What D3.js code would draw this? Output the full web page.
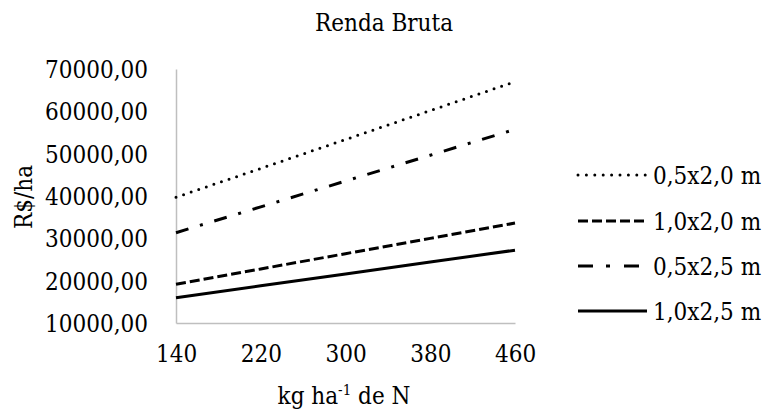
<!DOCTYPE html>
<html>
<head>
<meta charset="utf-8">
<script src="https://cdn.jsdelivr.net/npm/d3@7"></script>
<style>
  body { margin: 0; background: #fff; }
</style>
</head>
<body>
<svg id="chart" width="770" height="415"></svg>
<script>
const title = "Renda Bruta";
const xTitle = "kg ha";
const yTitle = "R$/ha";
const nitrogen = [140, 220, 300, 380, 460];
const xTicks = [140, 220, 300, 380, 460];
const yTicks = [10000, 20000, 30000, 40000, 50000, 60000, 70000];
const seriesNames = ["0,5x2,0 m", "1,0x2,0 m", "0,5x2,5 m", "1,0x2,5 m"];
const s05x20 = [39700, 46520, 53350, 60170, 67000];
const s10x20 = [19150, 22760, 26380, 29990, 33600];
const s05x25 = [31330, 37430, 43530, 49630, 55730];
const s10x25 = [15980, 18790, 21590, 24400, 27200];

const FONT = "'DejaVu Serif Condensed', 'DejaVu Serif', serif";
const FS = 24;

const series = [
  { name: seriesNames[0], values: s05x20, dash: "0,8", cap: "round", width: 3, legendDash: "0,8.4" },
  { name: seriesNames[1], values: s10x20, dash: "10,4", cap: "butt", width: 3, legendDash: "10,4" },
  { name: seriesNames[2], values: s05x25, dash: "13,12,3,12", cap: "butt", width: 3, legendDash: "15,13,4,14,15,60" },
  { name: seriesNames[3], values: s10x25, dash: null, cap: "butt", width: 3, legendDash: null }
];

const svg = d3.select("#chart");
const x = d3.scaleLinear().domain([140, 460]).range([176, 515]);
const y = d3.scaleLinear().domain([10000, 70000]).range([323, 69]);
const fmt = v => d3.format(".2f")(v).replace(".", ",");

// axes
const xAxis = svg.append("g").attr("transform", "translate(0,323)")
  .call(d3.axisBottom(x).tickValues(xTicks).tickSize(0).tickPadding(22).tickFormat(d3.format("d")));
const yAxis = svg.append("g").attr("transform", "translate(176,0)")
  .call(d3.axisLeft(y).tickValues(yTicks).tickSize(0).tickPadding(28).tickFormat(fmt));
[xAxis, yAxis].forEach(g => {
  g.attr("font-family", FONT);
  g.select(".domain").attr("stroke", "#bfbfbf").attr("stroke-width", 1.5);
  g.selectAll("text").attr("font-size", FS).attr("fill", "#000");
});
yAxis.selectAll("text").attr("dy", "0.36em");

// lines
const line = d3.line().x((d, i) => x(nitrogen[i])).y(d => y(d));
series.forEach(s => {
  svg.append("path").datum(s.values)
    .attr("d", line)
    .attr("fill", "none")
    .attr("stroke", "#000")
    .attr("stroke-width", s.width)
    .attr("stroke-linecap", s.cap)
    .attr("stroke-dasharray", s.dash);
});

// title
svg.append("text").attr("x", 384).attr("y", 31).attr("text-anchor", "middle")
  .attr("font-family", FONT).attr("font-size", FS).text(title);

// x axis title with superscript
const xt = svg.append("text").attr("x", 344).attr("y", 404).attr("text-anchor", "middle")
  .attr("font-family", FONT).attr("font-size", FS);
xt.append("tspan").text(xTitle);
xt.append("tspan").attr("font-size", 15).attr("dy", -9).text("-1");
xt.append("tspan").attr("dy", 9).text(" de N");

// y axis title
svg.append("text").attr("transform", "translate(32,197) rotate(-90)")
  .attr("font-family", FONT)
  .attr("text-anchor", "middle").attr("font-size", FS).text(yTitle);

// legend
const legendY = [175, 221, 266, 311];
series.forEach((s, i) => {
  const g = svg.append("g").attr("transform", `translate(0,${legendY[i]})`);
  g.append("line").attr("x1", 578).attr("x2", 647).attr("y1", 0).attr("y2", 0)
    .attr("stroke", "#000").attr("stroke-width", s.width)
    .attr("stroke-linecap", s.cap)
    .attr("stroke-dasharray", s.legendDash);
  g.append("text").attr("x", 653).attr("y", 9).attr("font-family", FONT).attr("font-size", FS).text(s.name);
});
</script>
</body>
</html>
